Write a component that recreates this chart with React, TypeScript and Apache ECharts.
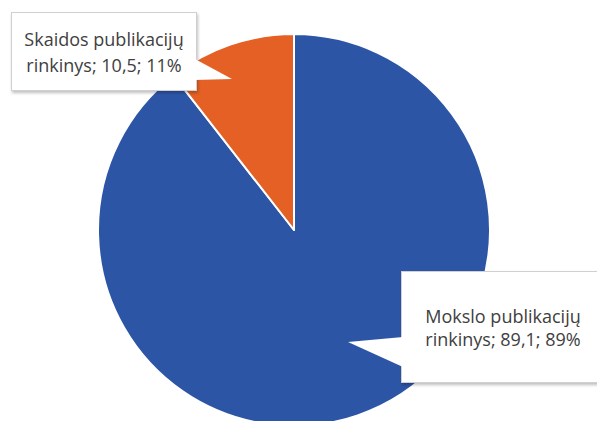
import React, { useEffect, useRef } from "react";
import * as echarts from "echarts";

const categories = ["Mokslo publikacijų rinkinys", "Skaidos publikacijų rinkinys"];
const values = [89.1, 10.5];
const colors = ["#2D55A6", "#E46024"];

const labelBoxes = [
  { x: 503, y: 327, width: 202, lineHeight: 23, padding: [32, 0, 32, 0] },
  { x: 104, y: 51.5, width: 184, lineHeight: 26, padding: [16, 0, 9, 0] },
];

export default function App() {
  const ref = useRef<HTMLDivElement>(null);
  useEffect(() => {
    if (!ref.current) return;
    const chart = echarts.init(ref.current, null, { renderer: "svg" });
    chart.setOption({
      animation: false,
      backgroundColor: "#ffffff",
      series: [
        {
          type: "pie",
          center: [294, 230],
          radius: 196,
          startAngle: 90,
          clockwise: true,
          avoidLabelOverlap: false,
          data: categories.map((name, i) => ({
            name,
            value: values[i],
            itemStyle: { color: colors[i] },
            label: {
              padding: labelBoxes[i].padding,
              width: labelBoxes[i].width,
              lineHeight: labelBoxes[i].lineHeight,
            },
          })),
          itemStyle: { borderColor: "#ffffff", borderWidth: 2 },
          label: {
            show: true,
            position: "outside",
            fontFamily: "'Open Sans', sans-serif",
            fontSize: 18,
            color: "#404040",
            align: "center",
            backgroundColor: "#ffffff",
            borderColor: "#d0d0d0",
            borderWidth: 1,
            shadowColor: "rgba(0,0,0,0.25)",
            shadowBlur: 3,
            shadowOffsetX: 1,
            shadowOffsetY: 2,
            formatter: (p: any) =>
              p.name.replace(" rinkinys", "\nrinkinys") +
              "; " +
              String(p.value).replace(".", ",") +
              "; " +
              Math.round(p.percent) +
              "%",
          },
          labelLine: { show: false },
          labelLayout: (params: any) => ({
            x: labelBoxes[params.dataIndex].x,
            y: labelBoxes[params.dataIndex].y,
            align: "center",
            verticalAlign: "middle",
          }),
        },
      ],
      graphic: [
        {
          type: "polygon",
          z: 100,
          shape: { points: [[195, 59], [232, 79], [195, 80]] },
          style: { fill: "#ffffff" },
        },
        {
          type: "polygon",
          z: 100,
          shape: { points: [[403, 337], [348, 342], [403, 367]] },
          style: { fill: "#ffffff" },
        },
      ],
    });
    return () => chart.dispose();
  }, []);
  return (
    <div
      ref={ref}
      style={{ position: "absolute", left: 0, top: 0, width: 597, height: 421 }}
    />
  );
}
